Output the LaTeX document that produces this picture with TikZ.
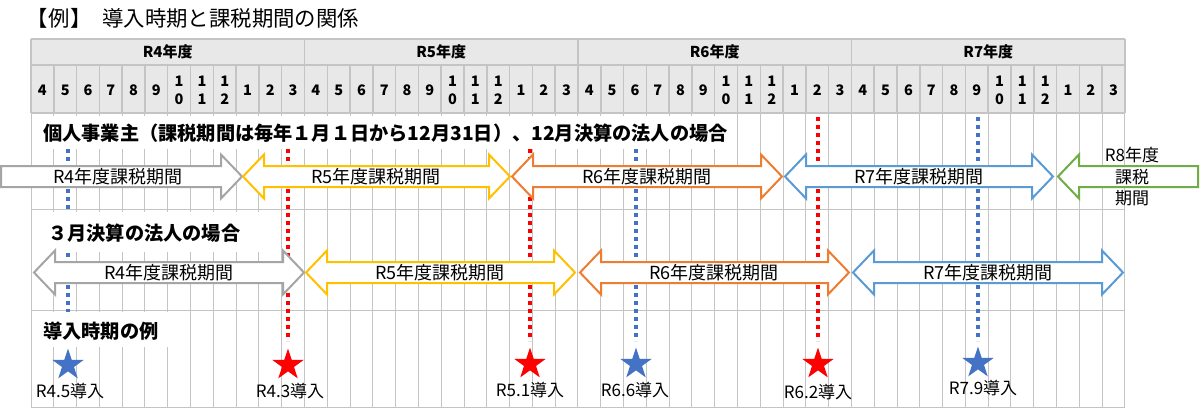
\documentclass[tikz,border=0pt]{standalone}
\usepackage{fontspec}
\setmainfont{Noto Sans CJK JP}
\usetikzlibrary{shapes.geometric}
\definecolor{cgrey}{HTML}{A5A5A5}
\definecolor{cyel}{HTML}{FFC000}
\definecolor{cora}{HTML}{ED7D31}
\definecolor{cblu}{HTML}{5B9BD5}
\definecolor{cgrn}{HTML}{70AD47}
\definecolor{dblue}{HTML}{4472C4}
\definecolor{hdrfill}{HTML}{E8E8E8}
\definecolor{gridc}{HTML}{C4C4C4}
\newcommand\DArrow[4]{%
  \draw[arrbox, draw=#4] (#1,#3) -- ++(21,-22) -- ++(0,11.5) -- ({#2-21},{#3-10.5}) -- ++(0,-11.5) -- (#2,#3) -- ++(-21,22) -- ++(0,-11.5) -- ({#1+21},{#3+10.5}) -- ++(0,11.5) -- cycle;}
\begin{document}
\begin{tikzpicture}[x=1pt,y=-1pt,
  hdr/.style={font=\fontsize{14.5}{18}\selectfont\bfseries, inner sep=0pt, align=center},
  yrlbl/.style={font=\fontsize{15}{18}\selectfont\bfseries, inner sep=0pt},
  sect/.style={font=\fontsize{19.2}{22}\selectfont\bfseries, inner sep=0pt, anchor=west},
  arrlbl/.style={font=\fontsize{18}{21.5}\selectfont, inner sep=0pt, align=center},
  starlbl/.style={font=\fontsize{17}{20}\selectfont, inner sep=0pt},
  dotline/.style={line width=3.5pt, dash pattern=on 4pt off 4pt},
  arrbox/.style={line width=2pt, fill=white, line join=miter},
  mystar/.style={star, star points=5, star point ratio=2.6, minimum size=33pt, inner sep=0pt, draw=none},
  gridline/.style={draw=gridc, line width=1pt},
  hdrline/.style={draw=gridc, line width=1.5pt}
]
\useasboundingbox (0,0) rectangle (1200,416);
\fill[white] (0,0) rectangle (1200,416);
% title
\node[anchor=west, inner sep=0pt, font=\fontsize{21.4}{25}\selectfont] (title) at (26,18) {【\kern1pt 例\kern1pt 】\kern10pt 導入時期と課税期間の関係};
% body grid
\foreach \i in {0,...,48} { \draw[gridline] ({31+22.79*\i},113) -- ({31+22.79*\i},407); }
\foreach \yy in {113,209,310,407} { \draw[gridline] (31,\yy) -- (1125,\yy); }
% header
\fill[hdrfill] (31,39) rectangle (1125,113);
\foreach \i in {0,...,48} { \draw[hdrline] ({31+22.79*\i},65) -- ({31+22.79*\i},113); }
\foreach \i in {0,...,4} { \draw[hdrline] ({31+273.5*\i},39) -- ({31+273.5*\i},65); }
\foreach \yy in {39,65,113} { \draw[hdrline] (31,\yy) -- (1125,\yy); }
\foreach \yn [count=\k from 0] in {R4,R5,R6,R7} {
  \node[yrlbl] (yr\k) at ({31+273.5*(\k+0.5)},52) {{\yn}年度};
}
\foreach \yr in {0,1,2,3} {
  \foreach \m [count=\k from 0] in {4,5,6,7,8,9,{1\\0},{1\\1},{1\\2},1,2,3} {
    \node[hdr] (m\yr-\k) at ({31+22.79*(12*\yr+\k+0.5)},90) {\m};
  }
}
% dotted lines
\coordinate (d1a) at (68,117);  \coordinate (d1b) at (68,341);
\coordinate (d2a) at (288,117); \coordinate (d2b) at (288,341);
\coordinate (d3a) at (530,117); \coordinate (d3b) at (530,341);
\coordinate (d4a) at (636,117); \coordinate (d4b) at (636,341);
\coordinate (d5a) at (818,117); \coordinate (d5b) at (818,341);
\coordinate (d6a) at (978,117); \coordinate (d6b) at (978,341);
\draw[dotline, dblue] (d1a) -- (d1b);
\draw[dotline, red] (d2a) -- (d2b);
\draw[dotline, red] (d3a) -- (d3b);
\draw[dotline, dblue] (d4a) -- (d4b);
\draw[dotline, red] (d5a) -- (d5b);
\draw[dotline, dblue] (d6a) -- (d6b);
% section labels
\fill[white] (32,116) rectangle (733,149);
\fill[white] (32,212) rectangle (262,252);
\fill[white] (32,312) rectangle (169,347);
\node[sect] (sec1) at (43,133) {個人事業主（課税期間は毎年１月１日から12月31日）、12月決算の法人の場合};
\node[sect] (sec2) at (48,233) {３月決算の法人の場合};
\node[sect] (sec3) at (43,331) {導入時期の例};
% row 1 arrows
\draw[arrbox, draw=cgrey] (1,166) -- (221,166) -- (221,154.5) -- (242,176.5) -- (221,198.5) -- (221,187) -- (1,187) -- cycle;
\DArrow{243}{510}{176.5}{cyel}
\DArrow{512}{782}{176.5}{cora}
\DArrow{785}{1053}{176.5}{cblu}
\draw[arrbox, draw=cgrn] (1058,176.5) -- (1079,154.5) -- (1079,166) -- (1198,166) -- (1198,187) -- (1079,187) -- (1079,198.5) -- cycle;
\node[arrlbl] (a1) at (118,177) {R4年度課税期間};
\node[arrlbl] (a2) at (376,177) {R5年度課税期間};
\node[arrlbl] (a3) at (647,177) {R6年度課税期間};
\node[arrlbl] (a4) at (919,177) {R7年度課税期間};
\node[arrlbl, font=\fontsize{17}{21.5}\selectfont] (a5) at (1132,177) {R8年度\\課税\\期間};
% row 2 arrows
\DArrow{34}{304}{272.5}{cgrey}
\DArrow{306}{575}{272.5}{cyel}
\DArrow{580}{849}{272.5}{cora}
\DArrow{853}{1123}{272.5}{cblu}
\node[arrlbl] (b1) at (169,273) {R4年度課税期間};
\node[arrlbl] (b2) at (440,273) {R5年度課税期間};
\node[arrlbl] (b3) at (714,273) {R6年度課税期間};
\node[arrlbl] (b4) at (988,273) {R7年度課税期間};
% stars
\node[mystar, fill=dblue] (s1) at (68,365) {};
\node[mystar, fill=red] (s2) at (288,365) {};
\node[mystar, fill=red] (s3) at (530,364) {};
\node[mystar, fill=dblue] (s4) at (636,364) {};
\node[mystar, fill=red] (s5) at (818,364) {};
\node[mystar, fill=dblue] (s6) at (978,363) {};
\node[starlbl] (l1) at (70,391) {R4.5導入};
\node[starlbl] (l2) at (290,391) {R4.3導入};
\node[starlbl] (l3) at (530,390) {R5.1導入};
\node[starlbl] (l4) at (635,390) {R6.6導入};
\node[starlbl] (l5) at (818,392) {R6.2導入};
\node[starlbl] (l6) at (983,388) {R7.9導入};
\end{tikzpicture}
\end{document}
